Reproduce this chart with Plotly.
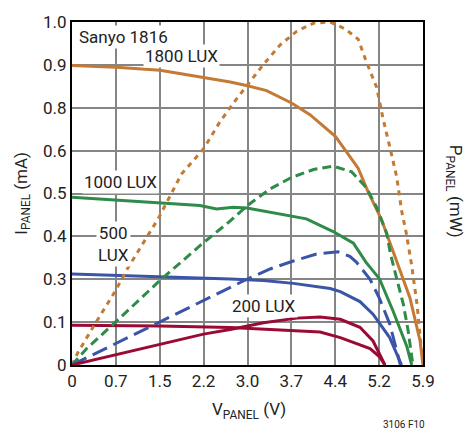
import plotly.graph_objects as go

# tick labels (axes are linear, 8 equal divisions)
x_ticks = [0, 0.7375, 1.475, 2.2125, 2.95, 3.6875, 4.425, 5.1625, 5.9]
x_labels = ['0', '0.7', '1.5', '2.2', '3.0', '3.7', '4.4', '5.2', '5.9']
y_ticks = [0, 0.125, 0.25, 0.375, 0.5, 0.625, 0.75, 0.875, 1.0]
y_labels = ['0', '0.1', '0.3', '0.4', '0.5', '0.6', '0.8', '0.9', '1.0']

# panel current (mA) vs panel voltage (V)
v_1800 = [0, 0.74, 1.48, 2.21, 2.66, 2.95, 3.27, 3.69, 4.00, 4.43, 4.81, 4.97, 5.20, 5.45, 5.68, 5.85, 5.90]
i_1800 = [0.873, 0.868, 0.859, 0.838, 0.825, 0.814, 0.800, 0.764, 0.730, 0.666, 0.574, 0.508, 0.425, 0.306, 0.196, 0.071, 0]
v_1000 = [0, 0.74, 1.48, 2.15, 2.43, 2.71, 2.94, 3.50, 3.94, 4.39, 4.73, 4.94, 5.17, 5.40, 5.63, 5.71]
i_1000 = [0.489, 0.481, 0.474, 0.465, 0.455, 0.460, 0.458, 0.441, 0.426, 0.389, 0.355, 0.300, 0.251, 0.156, 0.053, 0]
v_500 = [0, 1.48, 2.66, 3.22, 3.72, 4.34, 4.51, 4.84, 5.06, 5.34, 5.54]
i_500 = [0.265, 0.258, 0.251, 0.246, 0.238, 0.223, 0.214, 0.185, 0.148, 0.080, 0]
v_200 = [0, 1.48, 2.66, 3.38, 4.17, 4.51, 5.01, 5.17, 5.26]
i_200 = [0.116, 0.114, 0.109, 0.103, 0.096, 0.080, 0.048, 0.024, 0]

# panel power (mW) vs panel voltage (V)
pv_1800 = [0, 0.10, 0.41, 0.72, 0.94, 1.45, 1.84, 2.21, 2.49, 2.77, 3.22, 3.50, 3.78, 4.06, 4.34,
           4.59, 4.81, 4.95, 5.12, 5.23, 5.35, 5.46, 5.54, 5.62, 5.71, 5.80, 5.88, 5.90]
p_1800 = [0, 0.11, 0.38, 0.64, 0.85, 1.28, 1.67, 1.89, 2.13, 2.33, 2.63, 2.80, 2.92, 2.99, 3.0,
          2.94, 2.85, 2.65, 2.43, 2.15, 1.89, 1.64, 1.35, 1.15, 0.87, 0.53, 0.10, 0]
pv_1000 = [0, 0.24, 0.72, 1.48, 2.21, 2.66, 2.96, 3.33, 3.69, 4.06, 4.39, 4.70, 4.95, 5.12,
           5.29, 5.35, 5.46, 5.57, 5.65, 5.73]
p_1000 = [0, 0.14, 0.37, 0.74, 1.07, 1.26, 1.40, 1.54, 1.64, 1.71, 1.74, 1.69, 1.55, 1.38,
          1.15, 0.98, 0.75, 0.53, 0.30, 0]
pv_500 = [0, 2.94, 3.33, 3.72, 4.11, 4.47, 4.67, 4.78, 5.01, 5.17, 5.34, 5.48, 5.52]
p_500 = [0, 0.75, 0.84, 0.91, 0.97, 0.99, 0.95, 0.90, 0.75, 0.58, 0.36, 0.07, 0]
pv_200 = [0, 0.75, 1.48, 2.21, 2.66, 3.22, 3.78, 4.17, 4.51, 4.84, 5.06, 5.20, 5.26]
p_200 = [0, 0.09, 0.18, 0.27, 0.31, 0.37, 0.41, 0.42, 0.40, 0.33, 0.21, 0.07, 0]

ORANGE = '#c47a34'
GREEN = '#2e8b48'
BLUE = '#3a55a8'
RED = '#9b0a34'
FONT = 'Roboto, sans-serif'
TXT = '#222'

fig = go.Figure()

# current curves (solid)
for v, i, c in [(v_1800, i_1800, ORANGE), (v_1000, i_1000, GREEN),
                (v_500, i_500, BLUE), (v_200, i_200, RED)]:
    fig.add_trace(go.Scatter(x=v, y=i, mode='lines', line=dict(color=c, width=3)))

# power curves on the right axis
for v, p, c, d in [(pv_1800, p_1800, ORANGE, '5px,5px'), (pv_1000, p_1000, GREEN, '9px,5px'),
                   (pv_500, p_500, BLUE, '16px,7px'), (pv_200, p_200, RED, 'solid')]:
    fig.add_trace(go.Scatter(x=v, y=p, mode='lines', yaxis='y2', line=dict(color=c, width=3, dash=d)))

# curve labels, white background hides the gridlines behind them
labels = [('Sanyo 1816', 0.015, 0.957, 'left'), ('1800 LUX', 0.312, 0.900, 'center'),
          ('1000 LUX', 0.137, 0.534, 'center'), ('500<br>LUX', 0.117, 0.352, 'center'),
          ('200 LUX', 0.548, 0.173, 'center')]
for t, x, y, xa in labels:
    fig.add_annotation(text=t, x=x, y=y, xref='paper', yref='paper', xanchor=xa, yanchor='middle',
                       showarrow=False, bgcolor='white', borderpad=1, font=dict(size=17, color=TXT))

fig.add_annotation(text='I<sub>PANEL</sub> (mA)', x=-0.142, y=0.5, xref='paper', yref='paper',
                   xanchor='center', yanchor='middle', textangle=-90, showarrow=False,
                   font=dict(size=17, color=TXT))
fig.add_annotation(text='V<sub>PANEL</sub> (V)', x=0.504, y=-0.133, xref='paper', yref='paper',
                   xanchor='center', yanchor='middle', showarrow=False, font=dict(size=17, color=TXT))
fig.add_annotation(text='P<sub>PANEL</sub> (mW)', x=1.09, y=0.506, xref='paper', yref='paper',
                   xanchor='center', yanchor='middle', textangle=90, showarrow=False,
                   font=dict(size=17, color=TXT))
fig.add_annotation(text='3106 F10', x=0.946, y=-0.173, xref='paper', yref='paper',
                   xanchor='center', yanchor='middle', showarrow=False, font=dict(size=10, color=TXT))

fig.update_layout(
    width=469, height=435,
    margin=dict(l=72, r=46, t=13, b=70),
    paper_bgcolor='white', plot_bgcolor='white',
    showlegend=False,
    font=dict(family=FONT, size=17, color=TXT),
    xaxis=dict(range=[0, 5.9], tickvals=x_ticks, ticktext=x_labels,
               showgrid=True, gridcolor='#858585', gridwidth=1.5, zeroline=False,
               showline=True, linecolor='black', linewidth=2, mirror=True, ticks=''),
    yaxis=dict(range=[0, 1.0], tickvals=y_ticks, ticktext=y_labels,
               showgrid=True, gridcolor='#858585', gridwidth=1.5, zeroline=False,
               showline=True, linecolor='black', linewidth=2, mirror=True, ticks=''),
    yaxis2=dict(range=[0, 3.0], overlaying='y', side='right', showgrid=False,
                showticklabels=False, zeroline=False, showline=False, ticks=''),
)

fig.write_html("out.html", config={'displayModeBar': False},
               post_script="document.body.style.margin='0';")
